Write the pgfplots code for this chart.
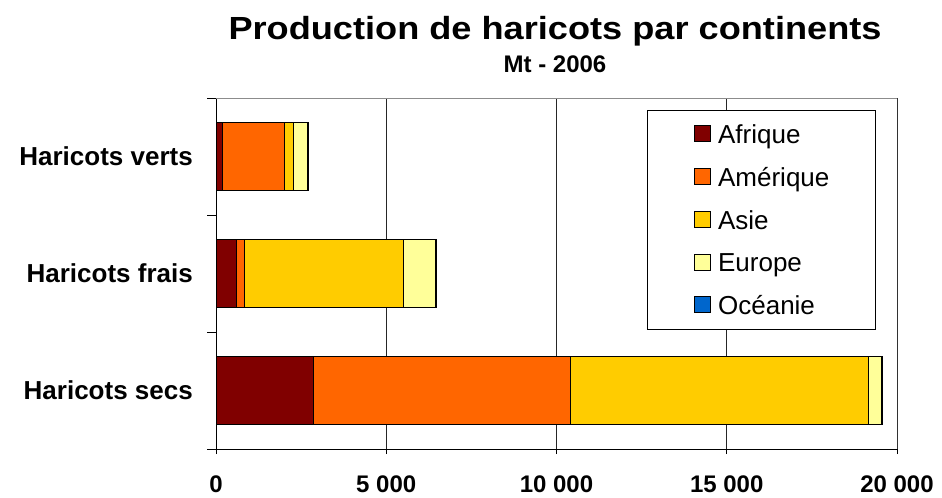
\documentclass[border=0pt]{standalone}
\usepackage{graphicx}
\usepackage{fontspec}
\setmainfont{Liberation Sans}
\usepackage{pgfplots}
\pgfplotsset{compat=1.18}
\definecolor{cAfr}{HTML}{800000}
\definecolor{cAme}{HTML}{FF6600}
\definecolor{cAsi}{HTML}{FFCC00}
\definecolor{cEur}{HTML}{FFFF99}
\definecolor{cOce}{HTML}{0066CC}
\begin{document}
\begin{tikzpicture}
\useasboundingbox (0,0) rectangle (942bp,498bp);
\node[anchor=base] at (555bp,458bp) {\fontsize{32bp}{38bp}\selectfont\bfseries\scalebox{1.13}[1]{Production de haricots par continents}};
\node[anchor=base] at (555bp,425bp) {\fontsize{24bp}{28bp}\selectfont\bfseries Mt - 2006};
\begin{axis}[
  at={(216bp,49bp)}, anchor=south west,
  scale only axis, width=681bp, height=351bp,
  xbar stacked, bar width=0.58,
  xmin=0, xmax=20000, ymin=-0.5, ymax=2.5,
  axis x line*=bottom, axis y line*=left,
  axis line style={-, black, line width=0.9bp},
  xtick={0,5000,10000,15000,20000},
  ytick={0,1,2},
  yticklabels={Haricots secs, Haricots frais, Haricots verts},
  minor ytick={-0.5,0.5,1.5,2.5},
  ytick style={draw=none},
  minor y tick style={draw=black, line width=0.9bp},
  minor tick length=9bp,
  major tick length=5bp,
  tick align=outside,
  xtick style={draw=black, line width=0.9bp},
  xmajorgrids,
  major x grid style={black!85, line width=0.9bp},
  scaled x ticks=false,
  xticklabel={\pgfmathprintnumber[assume math mode=true,1000 sep={\ }]{\tick}},
  xticklabel style={font=\fontsize{24bp}{28bp}\selectfont\bfseries, inner sep=0pt, anchor=north, yshift=-22bp},
  yticklabel style={font=\fontsize{26bp}{30bp}\selectfont\bfseries, inner sep=0pt, anchor=east, xshift=-18bp},
  legend cell align=left,
  legend image code/.code={\draw[#1, draw=black, line width=0.6bp] (0bp,-7bp) rectangle (16bp,9bp);},
  legend style={at={(0.633,0.966)}, anchor=north west, draw=black, line width=0.9bp,
    inner xsep=46bp, inner ysep=14bp, row sep=22.5bp, column sep=8bp,
    font=\fontsize{26bp}{30bp}\selectfont,
    nodes={inner sep=0pt}},
  every axis plot/.append style={draw=black, line width=0.6bp},
]
\addplot[fill=cAfr] coordinates {(2850,0) (600,1) (180,2)};
\addplot[fill=cAme] coordinates {(7560,0) (240,1) (1830,2)};
\addplot[fill=cAsi] coordinates {(8740,0) (4650,1) (260,2)};
\addplot[fill=cEur] coordinates {(400,0) (950,1) (420,2)};
\addplot[fill=cOce] coordinates {(20,0) (25,1) (10,2)};
\legend{Afrique, Amérique, Asie, Europe, Océanie}
\draw[black!45, line width=0.9bp] (rel axis cs:0,1) -- (rel axis cs:1,1) -- (rel axis cs:1,0);
\end{axis}
\end{tikzpicture}
\end{document}
